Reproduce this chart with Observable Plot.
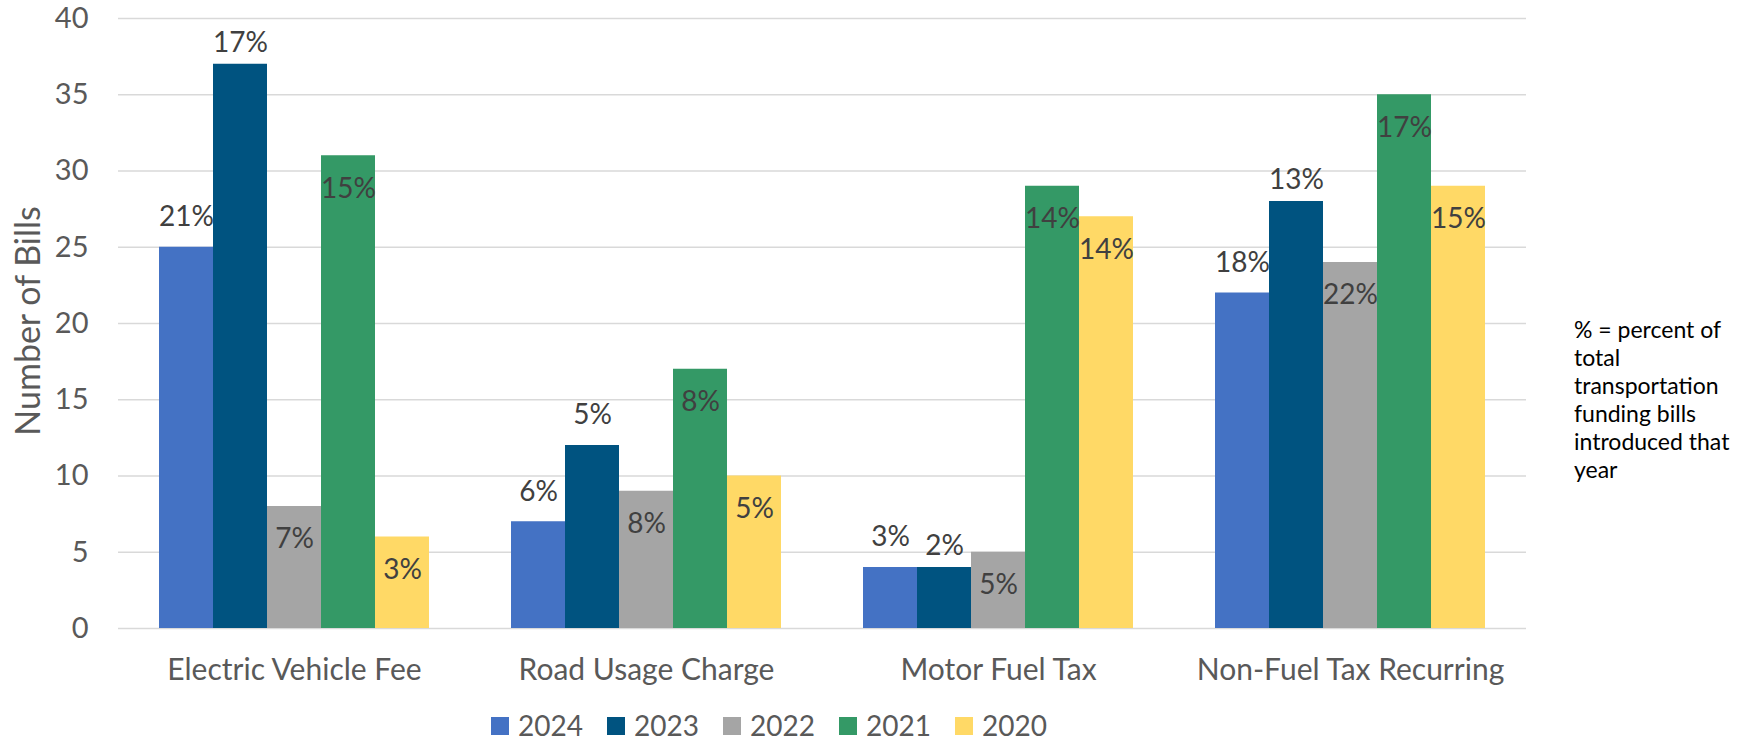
<!DOCTYPE html>
<html>
<head>
<meta charset="utf-8">
<script src="https://cdn.jsdelivr.net/npm/d3@7"></script>
<script src="https://cdn.jsdelivr.net/npm/@observablehq/plot@0.6"></script>
<style>
  html, body { margin: 0; padding: 0; background: #ffffff; }
  #wrap { position: relative; width: 1738px; height: 745px; overflow: hidden; font-family: Lato, "Open Sans", sans-serif; }
  #ytitle { position: absolute; left: 26px; top: 321px; transform: translate(-50%, -50%) rotate(-90deg); white-space: nowrap; font-size: 34px; color: #595959; }
  #note { position: absolute; left: 1574px; top: 315px; font-size: 23px; line-height: 28px; color: #000000; white-space: nowrap; }
  #legend { position: absolute; left: 491px; top: 715px; line-height: 21px; }
  #legend .lg-swatches-wrap { min-height: 0 !important; margin: 0 !important; }
  #legend .lg-swatches { margin: 0 !important; }
  #legend .lg-swatch { margin-right: 0 !important; width: 116px; line-height: 21px; }
  #legend .lg-swatch > svg { margin-right: 9px !important; }
</style>
</head>
<body>
<div id="wrap">
  <div id="chart"></div>
  <div id="ytitle"></div>
  <div id="note"></div>
  <div id="legend"></div>
</div>
<script>
// ---- data ----
const categories = ["Electric Vehicle Fee", "Road Usage Charge", "Motor Fuel Tax", "Non-Fuel Tax Recurring"];
const years = ["2024", "2023", "2022", "2021", "2020"];
const bills2024 = [25, 7, 4, 22];
const bills2023 = [37, 12, 4, 28];
const bills2022 = [8, 9, 5, 24];
const bills2021 = [31, 17, 29, 35];
const bills2020 = [6, 10, 27, 29];
const pct2024 = ["21%", "6%", "3%", "18%"];
const pct2023 = ["17%", "5%", "2%", "13%"];
const pct2022 = ["7%", "8%", "5%", "22%"];
const pct2021 = ["15%", "8%", "14%", "17%"];
const pct2020 = ["3%", "5%", "14%", "15%"];
const yTicks = [0, 5, 10, 15, 20, 25, 30, 35, 40];
const yTitle = "Number of Bills";
const noteLines = ["% = percent of", "total", "transportation", "funding bills", "introduced that", "year"];

// ---- styles ----
const colors = ["#4472C4", "#005380", "#A5A5A5", "#349966", "#FFD966"];
const FONT = "Lato, 'Open Sans', sans-serif";

const billsByYear = [bills2024, bills2023, bills2022, bills2021, bills2020];
const pctByYear = [pct2024, pct2023, pct2022, pct2021, pct2020];
const rows = [];
categories.forEach((c, ci) => {
  years.forEach((yr, yi) => {
    rows.push({category: c, year: yr, value: billsByYear[yi][ci], pct: pctByYear[yi][ci]});
  });
});

// label placement (pixels relative to bar top), mimicking the reference's label positions
function labelDy(d) {
  if (d.year === "2024") return -30;
  if (d.year === "2023") return d.category === "Road Usage Charge" ? -30 : -21;
  return 33;
}
const dyGroups = d3.groups(rows, labelDy);

const chart = Plot.plot({
  width: 1738,
  height: 700,
  marginLeft: 117,
  marginRight: 212,
  marginTop: 18,
  marginBottom: 72,
  style: {fontFamily: FONT, fontSize: "30px", color: "#595959", background: "#ffffff"},
  fx: {domain: categories, padding: 0, label: null, axis: "bottom", tickSize: 0, tickPadding: 30},
  x: {domain: years, paddingInner: 0, paddingOuter: 0.745, axis: null},
  y: {domain: [0, 40], axis: null},
  color: {domain: years, range: colors},
  marks: [
    Plot.ruleY(yTicks, {stroke: "#d9d9d9", strokeWidth: 1.5}),
    Plot.axisY(yTicks, {tickSize: 0, tickPadding: 30, label: null, fill: "#595959", fontSize: 29}),
    Plot.barY(rows, {fx: "category", x: "year", y: "value", fill: "year"}),
    ...dyGroups.map(([dy, g]) => Plot.text(g, {
      fx: "category", x: "year", y: "value", text: "pct",
      dy, lineAnchor: "middle", textAnchor: "middle",
      fill: "#404040", fontSize: 28
    }))
  ]
});
document.getElementById("chart").appendChild(chart);

document.getElementById("ytitle").textContent = yTitle;
document.getElementById("note").innerHTML = noteLines.map(s => s.replace(/&/g, "&amp;").replace(/</g, "&lt;")).join("<br>");

const legend = Plot.legend({
  color: {domain: years, range: colors},
  legend: "swatches",
  className: "lg",
  swatchWidth: 18,
  swatchHeight: 18,
  style: {fontFamily: FONT, fontSize: "28px", color: "#595959"}
});
document.getElementById("legend").appendChild(legend);
</script>
</body>
</html>
